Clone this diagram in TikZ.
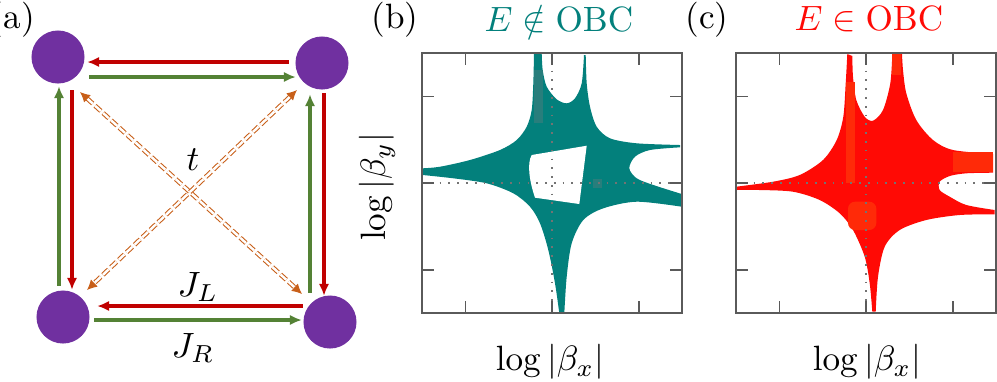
\documentclass[tikz,border=0pt]{standalone}
\usetikzlibrary{arrows.meta,calc}
\definecolor{sitepurple}{RGB}{112,48,160}
\definecolor{hopred}{RGB}{192,0,0}
\definecolor{hopgreen}{RGB}{84,130,53}
\definecolor{diagorange}{RGB}{200,95,25}
\definecolor{pbcteal}{RGB}{3,128,124}
\definecolor{pbcpatch}{RGB}{40,126,124}
\definecolor{obcred}{RGB}{255,10,5}
\definecolor{obcpatch}{RGB}{255,42,8}
\definecolor{framegray}{RGB}{90,90,90}

\begin{document}
\begin{tikzpicture}[x=0.01cm, y=-0.01cm,
    site/.style={circle, fill=sitepurple, minimum size=0.53cm, inner sep=0pt},
    jl/.style={-{Latex[length=1.2mm,width=1.05mm]}, line width=0.9pt, hopred},
    jr/.style={-{Latex[length=1.2mm,width=1.05mm]}, line width=0.9pt, hopgreen},
    tdiag/.style={{Latex[length=1mm,width=1mm]}-{Latex[length=1mm,width=1mm]},
                  diagorange, line width=0.3pt, double=white, double distance=0.7pt,
                  dash pattern=on 2.2pt off 0.9pt},
    plotframe/.style={framegray, line width=0.45pt},
    guide/.style={black!55, dotted, line width=0.5pt},
    toplbl/.style={inner sep=1pt}
  ]
  \useasboundingbox (0,0) rectangle (997,381);

  % (a) plaquette
  \node[site] (tl) at (58,57) {};
  \node[site] (tr) at (322,63) {};
  \node[site] (bl) at (63,317) {};
  \node[site] (br) at (330,322) {};
  \draw[jl] ($(tr.west)+(-6,-1)$) -- ($(tl.east)+(2,5)$);
  \draw[jr] ($(tl.east)+(4,20)$) -- ($(tr.west)+(1,14)$);
  \draw[jr] ($(bl.north)+(-4,-4)$) -- ($(tl.south)+(1,2)$);
  \draw[jl] ($(tl.south)+(14,6)$) -- ($(bl.north)+(9,0)$);
  \draw[jr] ($(br.north)+(-20,-2)$) -- ($(tr.south)+(-12,4)$);
  \draw[jl] ($(tr.south)+(2,3)$) -- ($(br.north)+(-6,1)$);
  \draw[jl] ($(br.west)+(0,-16)$) -- ($(bl.east)+(7,-11)$);
  \draw[jr] ($(bl.east)+(4,3)$) -- ($(br.west)+(-1,-2)$);
  \draw[tdiag] ($(tl)+(22,35)$) -- ($(br)+(-28,-28)$);
  \draw[tdiag] ($(tr)+(-25,27)$) -- ($(bl)+(24,-27)$);
  \node (tlab) at (193,160) {$t$};
  \node (jllab) at (198,287) {$J_L$};
  \node (jrlab) at (193,348) {$J_R$};

  % (b) E not in OBC
  \fill[pbcteal]
    plot[smooth] coordinates {(534,53.3) (533.3,83.3) (531.7,110) (526.7,126.7) (516.7,140) (500,150) (470,160) (440,166.7) (422.7,168.3)}
    -- plot[smooth] coordinates {(422.7,175) (453.3,178.3) (486.7,183.3) (513.3,193.3) (530,206.7) (540,223.3) (548.3,250) (555,283.3) (559.3,313.3)}
    -- plot[smooth] coordinates {(564.3,313.3) (566.7,276.7) (571.7,243.3) (583.3,220) (603.3,208.3) (636.7,201.7) (681.7,206.7)}
    -- plot[smooth] coordinates {(681.7,194) (653.3,185) (636.7,178.3) (629.3,168.3) (635,156.7) (650,150) (680,147.3)}
    -- plot[smooth] coordinates {(680,145) (636.7,143.3) (610,138.3) (596.7,126.7) (590,106.7) (586.7,83.3) (585.7,55)}
    -- plot[smooth] coordinates {(584,55) (581.7,83.3) (575,98.3) (566.7,103.3) (556.7,99.3) (546.7,86.7) (542.7,70) (541.7,53.3)}
    -- cycle;
  \fill[white] (535,197.7) .. controls (529,180) and (527,163) .. (531.7,155)
    -- (586.7,145.7) -- (579.3,204) -- cycle;
  \fill[pbcpatch] (534,70) rectangle (543,123);
  \fill[pbcpatch] (593,179) rectangle (601.5,187.5);
  \draw[guide] (422,183) -- (682,183);
  \draw[guide] (552,53) -- (552,313);

  % (c) E in OBC
  \fill[obcred]
    plot[smooth] coordinates {(847.3,54) (845.7,83.3) (843.3,116.7) (836.7,140) (823,160) (799.7,175) (773,181.7) (736,186.7)}
    -- plot[smooth] coordinates {(736,190) (759.7,190) (793,191.7) (819.7,200) (839.7,213.3) (853,230) (864.7,256.7) (869.7,283.3) (872.3,311.7)}
    -- plot[smooth] coordinates {(875.7,311.7) (878,276.7) (884.7,246.7) (899.7,230) (926.3,220) (959.7,215) (994.7,214.3)}
    -- plot[smooth] coordinates {(994.7,210) (966.3,205) (949.7,196.7) (939.7,190) (939.7,181.7) (949.7,176) (966.3,173.3) (993,172.7)}
    -- plot[smooth] coordinates {(993,154) (953,150) (933,140) (916.3,120) (906.3,93.3) (903,70) (902,54)}
    -- plot[smooth] coordinates {(892.3,54) (890.3,83.3) (883,110) (873,120.7) (864.7,116.7) (856.3,100) (853,76.7) (852.3,56)}
    -- cycle;
  \fill[obcpatch] (845.7,81.7) rectangle (854.7,183.3);
  \fill[obcpatch] (892.3,54) rectangle (901.3,75);
  \fill[obcpatch] (953,151.7) rectangle (993,171.7);
  \fill[obcpatch, rounded corners=2pt] (848,201.7) rectangle (876.3,230);
  \draw[guide] (736,183) -- (996,183);
  \draw[guide] (866,53) -- (866,313);

  % frames and ticks
  \foreach \ox in {422,736} {
    \draw[plotframe] (\ox,53) rectangle ++(260,260);
    \foreach \f in {43.3,130,216.7} {
      \draw[plotframe] (\ox+\f,53) -- ++(0,12);
      \draw[plotframe] (\ox+\f,313) -- ++(0,-12);
      \draw[plotframe] (\ox,53+\f) -- ++(12,0);
      \draw[plotframe] (\ox+260,53+\f) -- ++(-12,0);
    }
  }

  % labels
  \node[toplbl, anchor=east] (alab) at (39,20) {(a)};
  \node[toplbl] (blab) at (395,20) {(b)};
  \node[toplbl] (clab) at (707,20) {(c)};
  \node[toplbl, text=pbcteal] (btitle) at (559,19) {$E\notin\mathrm{OBC}$};
  \node[toplbl, text=obcred] (ctitle) at (869,19) {$E\in\mathrm{OBC}$};
  \node[rotate=90] (ylab) at (377,187) {$\log|\beta_y|$};
  \node (bxlab) at (550,362) {$\log|\beta_x|$};
  \node (cxlab) at (867,362) {$\log|\beta_x|$};
\end{tikzpicture}
\end{document}
